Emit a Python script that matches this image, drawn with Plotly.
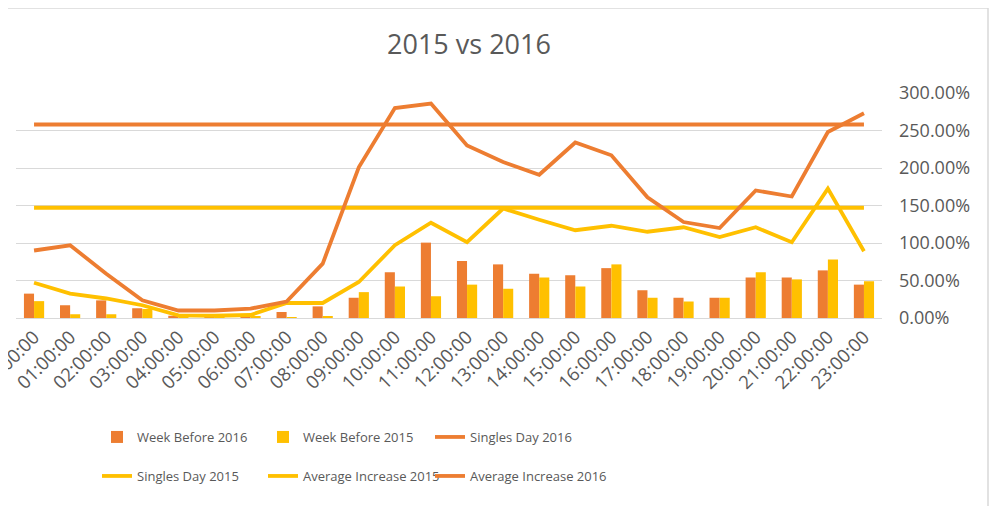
import plotly.graph_objects as go

hours = ["%02d:00:00" % h for h in range(24)]

week_before_2016 = [0.325, 0.17, 0.235, 0.13, 0.03, 0.02, 0.02, 0.08, 0.155, 0.27, 0.61, 1.005,
                    0.76, 0.715, 0.59, 0.57, 0.665, 0.37, 0.27, 0.27, 0.54, 0.54, 0.635, 0.445]
week_before_2015 = [0.225, 0.05, 0.05, 0.12, 0.02, 0.02, 0.02, 0.005, 0.02, 0.345, 0.42, 0.29,
                    0.445, 0.39, 0.54, 0.42, 0.715, 0.27, 0.22, 0.27, 0.61, 0.515, 0.78, 0.49]
singles_day_2016 = [0.90, 0.97, 0.59, 0.236, 0.10, 0.10, 0.125, 0.22, 0.725, 2.01, 2.80, 2.86,
                    2.30, 2.08, 1.91, 2.34, 2.17, 1.61, 1.28, 1.20, 1.70, 1.62, 2.48, 2.73]
singles_day_2015 = [0.47, 0.325, 0.26, 0.17, 0.036, 0.03, 0.04, 0.20, 0.20, 0.48, 0.97, 1.27,
                    1.01, 1.46, 1.31, 1.17, 1.23, 1.15, 1.21, 1.08, 1.21, 1.01, 1.725, 0.89]
avg_increase_2015_value = 1.47
avg_increase_2016_value = 2.58
average_increase_2015 = [avg_increase_2015_value] * len(hours)
average_increase_2016 = [avg_increase_2016_value] * len(hours)

y_ticks = [0, 0.5, 1.0, 1.5, 2.0, 2.5, 3.0]

ORANGE = "#ED7D31"
YELLOW = "#FFC000"
GREY_TXT = "#595959"
GRID = "#D9D9D9"
LW = 3.8

fig = go.Figure()
fig.add_trace(go.Bar(x=hours, y=week_before_2016, name="Week Before 2016",
                     marker=dict(color=ORANGE, line=dict(width=0)), legend="legend",
                     showlegend=True))
fig.add_trace(go.Bar(x=hours, y=week_before_2015, name="Week Before 2015",
                     marker=dict(color=YELLOW, line=dict(width=0)), legend="legend2",
                     showlegend=True))
fig.add_trace(go.Scatter(x=hours, y=average_increase_2015, name="Average Increase 2015",
                         mode="lines", line=dict(color=YELLOW, width=LW), legend="legend5",
                         showlegend=True))
fig.add_trace(go.Scatter(x=hours, y=average_increase_2016, name="Average Increase 2016",
                         mode="lines", line=dict(color=ORANGE, width=LW), legend="legend6",
                         showlegend=True))
fig.add_trace(go.Scatter(x=hours, y=singles_day_2015, name="Singles Day 2015",
                         mode="lines", line=dict(color=YELLOW, width=LW), legend="legend4",
                         showlegend=True))
fig.add_trace(go.Scatter(x=hours, y=singles_day_2016, name="Singles Day 2016",
                         mode="lines", line=dict(color=ORANGE, width=LW), legend="legend3",
                         showlegend=True))

# page body has an 8px margin; figure coordinates = page coordinates - 8
OFF = 8
W, H = 999 - OFF, 506 - OFF
L, R = 16 - OFF, 882 - OFF
H_TOP, H_BOT = 93 - OFF, 318 - OFF

def ypap(py):
    return (H_BOT - (py - OFF)) / (H_BOT - H_TOP)

def xpap(px):
    return ((px - OFF) - L) / (R - L)

def leg(px, py):
    return dict(x=xpap(px), y=ypap(py), orientation="h", xanchor="left", yanchor="top",
                font=dict(family="Open Sans", size=13, color=GREY_TXT), itemwidth=30,
                bgcolor="rgba(0,0,0,0)", visible=True)

col_x = [97, 263, 430]
row_y = [422, 461]

fig.update_layout(
    width=W, height=H, showlegend=True,
    margin=dict(l=L, r=W - R, t=H_TOP, b=H - H_BOT, autoexpand=False),
    paper_bgcolor="white", plot_bgcolor="white",
    barmode="group", bargap=0.44, bargroupgap=0,
    title=dict(text="2015 vs 2016", x=(469 - OFF) / W, xref="container", xanchor="center",
               y=1 - (45 - OFF) / H, yref="container", yanchor="middle",
               font=dict(family="Open Sans", size=27, color=GREY_TXT)),
    legend=leg(col_x[0], row_y[0]),
    legend2=leg(col_x[1], row_y[0]),
    legend3=leg(col_x[2], row_y[0]),
    legend4=leg(col_x[0], row_y[1]),
    legend5=leg(col_x[1], row_y[1]),
    legend6=leg(col_x[2], row_y[1]),
    xaxis=dict(type="category", tickangle=-45, automargin=False,
               tickfont=dict(family="Open Sans", size=18.5, color=GREY_TXT),
               showline=True, linecolor=GRID, linewidth=1, ticks="", showgrid=False),
    yaxis=dict(side="right", range=[0, 3.0], tickvals=y_ticks, tickformat=".2%",
               automargin=False, showgrid=True, gridcolor=GRID, gridwidth=1,
               zeroline=False, showline=False, ticks="", ticklabelstandoff=16,
               tickfont=dict(family="Open Sans", size=18, color=GREY_TXT)),
    shapes=[
        dict(type="line", xref="paper", yref="paper", x0=xpap(-20), x1=xpap(988),
             y0=ypap(8), y1=ypap(8), line=dict(color=GRID, width=1.5)),
        dict(type="line", xref="paper", yref="paper", x0=xpap(988), x1=xpap(988),
             y0=ypap(8), y1=ypap(520), line=dict(color=GRID, width=1.5)),
    ],
)

fig.write_html("out.html")
